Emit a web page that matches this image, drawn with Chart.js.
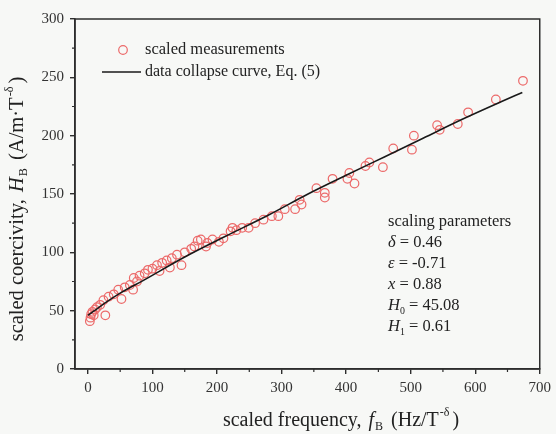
<!DOCTYPE html>
<html>
<head>
<meta charset="utf-8">
<script src="https://cdn.jsdelivr.net/npm/chart.js@4"></script>
<style>
  html, body { margin: 0; padding: 0; background: #f7f8f6; }
  #wrap { width: 556px; height: 434px; }
</style>
</head>
<body>
<div id="wrap"><canvas id="myChart" width="556" height="434"></canvas></div>
<script>
// measured points (scaled frequency, scaled coercivity)
var measFreq = [3, 4, 5, 7, 9, 11, 14, 19, 24, 27, 32, 40, 47, 52, 57, 65, 70, 71, 76, 80, 88, 93,
  100, 107, 111, 115, 122, 127, 130, 138, 145, 150, 160, 165, 170, 175, 183, 185, 193, 203, 210,
  221, 224, 230, 239, 249, 259, 272, 285, 295, 305, 321, 328, 331, 354, 367, 367, 379, 402, 405,
  413, 430, 436, 457, 473, 502, 505, 541, 545, 573, 589, 632, 674];
var measH = [41, 44, 47, 49, 46, 51, 53, 55, 59, 46, 62, 64, 68, 60, 70, 72, 68, 78, 75, 80, 82, 85,
  86, 89, 84, 91, 93, 87, 95, 98, 89, 100, 103, 105, 110, 111, 105, 108, 111, 109, 112,
  118, 121, 119, 121, 121, 125, 128, 131, 131, 137, 137, 145, 141, 155, 151, 147, 163, 163, 168,
  159, 174, 177, 173, 189, 188, 200, 209, 205, 210, 220, 231, 247];

// data collapse curve, Eq. (5)
var curveFreq = [0, 10, 25, 50, 86, 150, 214, 280, 341, 400, 460, 520, 580, 640, 673];
var curveH = [46, 50, 56, 65, 76, 96, 114, 132, 150, 166, 182, 198, 214, 229, 237];

var xTicks = [0, 100, 200, 300, 400, 500, 600, 700];
var xMinor = [50, 150, 250, 350, 450, 550, 650];
var yTicks = [0, 50, 100, 150, 200, 250, 300];
var yMinor = [25, 75, 125, 175, 225, 275];

var params = [
  ['δ', '', '= 0.46'],
  ['ε', '', '= -0.71'],
  ['x', '', '= 0.88'],
  ['H', '0', '= 45.08'],
  ['H', '1', '= 0.61']
];

var serif = "'Liberation Serif', 'DejaVu Serif', serif";
var ink = '#2e2e2e';
var red = '#ec6a6a';

function pts(xs, ys) {
  return xs.map(function (v, i) { return { x: v, y: ys[i] }; });
}

// pieces are [text, style, extra gap after]; style: '' normal, 'i' italic, 'sub', 'sup'
function pieceFont(p, size) {
  var s = size, st = '';
  if (p[1] === 'i') st = 'italic ';
  if (p[1] === 'sub' || p[1] === 'sup') s = size * 0.6;
  return st + s + 'px ' + serif;
}

function drawRich(c, parts, x, y, size) {
  parts.forEach(function (p) {
    var dy = 0;
    if (p[1] === 'sub') dy = size * 0.3;
    if (p[1] === 'sup') dy = -size * 0.4;
    c.font = pieceFont(p, size);
    c.fillText(p[0], x, y + dy);
    x += c.measureText(p[0]).width + (p[2] || 0);
  });
  return x;
}

function richWidth(c, parts, size) {
  var w = 0;
  parts.forEach(function (p) {
    c.font = pieceFont(p, size);
    w += c.measureText(p[0]).width + (p[2] || 0);
  });
  return w;
}

var extras = {
  id: 'extras',
  beforeDraw: function (chart) {
    var c = chart.ctx;
    c.save();
    c.fillStyle = '#f7f8f6';
    c.fillRect(0, 0, chart.width, chart.height);
    c.restore();
  },
  afterDraw: function (chart) {
    var c = chart.ctx, a = chart.chartArea;
    var xs = chart.scales.x, ys = chart.scales.y;
    c.save();

    // frame
    c.strokeStyle = ink;
    c.lineWidth = 1.5;
    c.strokeRect(a.left, a.top, a.right - a.left, a.bottom - a.top);

    // minor ticks
    c.lineWidth = 1.2;
    c.beginPath();
    xMinor.forEach(function (v) {
      var px = xs.getPixelForValue(v);
      c.moveTo(px, a.bottom); c.lineTo(px, a.bottom + 3);
    });
    yMinor.forEach(function (v) {
      var py = ys.getPixelForValue(v);
      c.moveTo(a.left, py); c.lineTo(a.left - 3, py);
    });
    c.stroke();

    // legend
    var ds0 = chart.data.datasets[0], ds1 = chart.data.datasets[1];
    c.strokeStyle = ds0.borderColor;
    c.lineWidth = ds0.borderWidth;
    c.beginPath();
    c.arc(a.left + 48, a.top + 31, 4.3, 0, Math.PI * 2);
    c.stroke();
    c.strokeStyle = ds1.borderColor;
    c.lineWidth = ds1.borderWidth;
    c.beginPath();
    c.moveTo(a.left + 27, a.top + 53); c.lineTo(a.left + 66, a.top + 53);
    c.stroke();
    c.fillStyle = '#222';
    c.textBaseline = 'middle';
    c.font = '16.5px ' + serif;
    c.fillText(ds0.label, a.left + 70, a.top + 31);
    c.font = '16px ' + serif;
    c.fillText(ds1.label, a.left + 70, a.top + 53);

    // scaling parameters
    var tx = 388, ty = 222;
    c.font = '16.5px ' + serif;
    c.fillText('scaling parameters', tx, ty);
    params.forEach(function (p, i) {
      var parts = [[p[0], 'i']];
      if (p[1]) parts.push([p[1], 'sub']);
      parts.push([' ' + p[2], '']);
      drawRich(c, parts, tx, ty + 21 * (i + 1), 16.5);
    });

    // x axis title
    var xt = [['scaled frequency, ', '', 2], ['f', 'i', 1], ['B', 'sub', 3], [' (Hz/T', '', 1],
      ['-δ', 'sup', 3], [')', '']];
    var w = richWidth(c, xt, 20);
    drawRich(c, xt, 341 - w / 2, 421, 20);

    // y axis title
    var yt = [['scaled coercivity, ', '', 2], ['H', 'i', 1], ['B', 'sub', 3], [' (A/m·T', '', 1],
      ['-δ', 'sup', 3], [')', '']];
    c.translate(18, 209);
    c.rotate(-Math.PI / 2);
    w = richWidth(c, yt, 20.5);
    drawRich(c, yt, -w / 2, 0, 20.5);
    c.restore();
  }
};

const ctx = document.getElementById('myChart');

new Chart(ctx, {
  type: 'scatter',
  data: {
    datasets: [{
      label: 'scaled measurements',
      data: pts(measFreq, measH),
      showLine: false,
      pointRadius: 4.3,
      pointBorderWidth: 1.2,
      borderWidth: 1.2,
      borderColor: red,
      pointBorderColor: red,
      pointBackgroundColor: 'rgba(0,0,0,0)',
      order: 2
    }, {
      label: 'data collapse curve, Eq. (5)',
      data: pts(curveFreq, curveH),
      showLine: true,
      pointRadius: 0,
      borderColor: '#1a1a1a',
      borderWidth: 1.6,
      tension: 0.4,
      cubicInterpolationMode: 'monotone',
      order: 1
    }]
  },
  options: {
    responsive: false,
    animation: false,
    events: [],
    layout: { padding: { left: 0, right: 12, top: 19, bottom: 0 } },
    plugins: { legend: { display: false }, tooltip: { enabled: false } },
    scales: {
      x: {
        type: 'linear',
        min: -20,
        max: 700,
        afterBuildTicks: function (s) { s.ticks = xTicks.map(function (v) { return { value: v }; }); },
        afterFit: function (s) { s.height = 65; },
        grid: { drawOnChartArea: false, drawTicks: true, tickLength: 5, color: ink, lineWidth: 1.4 },
        border: { display: true, color: ink, width: 1.5 },
        ticks: { autoSkip: false, maxRotation: 0, padding: 5, color: '#333', font: { family: serif, size: 15 } }
      },
      y: {
        type: 'linear',
        min: 0,
        max: 300,
        afterBuildTicks: function (s) { s.ticks = yTicks.map(function (v) { return { value: v }; }); },
        afterFit: function (s) { s.width = 75; },
        grid: { drawOnChartArea: false, drawTicks: true, tickLength: 5, color: ink, lineWidth: 1.4 },
        border: { display: true, color: ink, width: 1.5 },
        ticks: { autoSkip: false, padding: 6, color: '#333', font: { family: serif, size: 15 } }
      }
    }
  },
  plugins: [extras]
});
</script>
</body>
</html>
